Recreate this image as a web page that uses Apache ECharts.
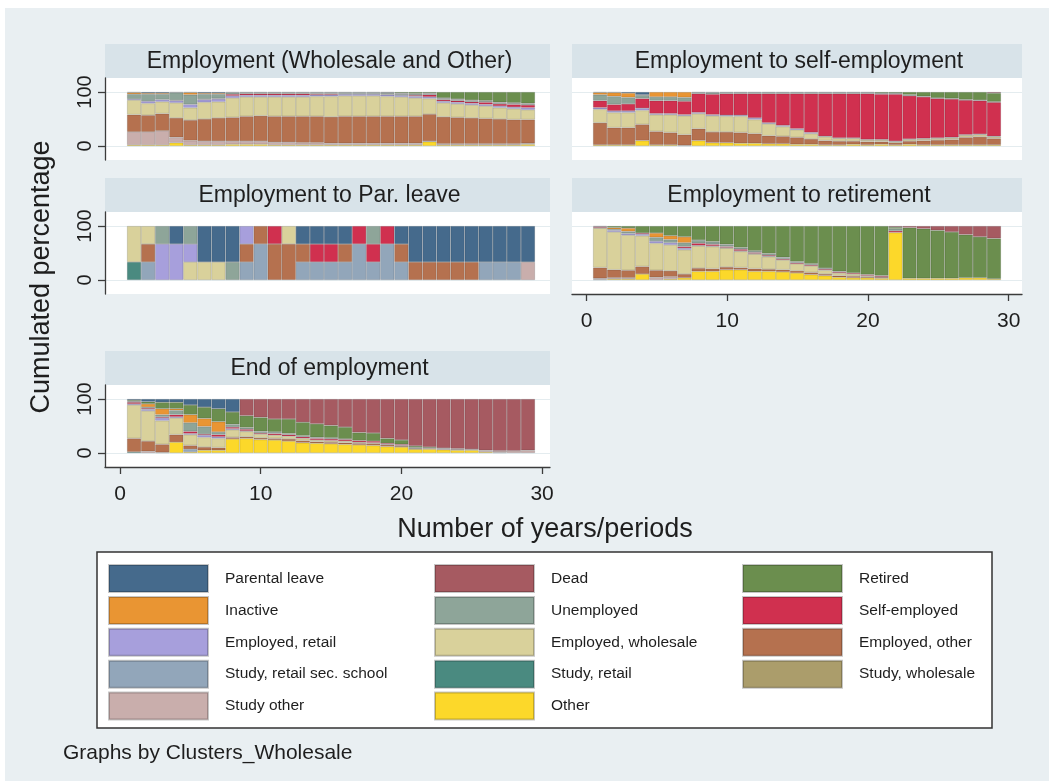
<!DOCTYPE html>
<html><head><meta charset="utf-8">
<script src="https://cdn.jsdelivr.net/npm/echarts@6/dist/echarts.min.js"></script>
<style>html,body{margin:0;padding:0;background:#fff}#c{width:1049px;height:781px}</style>
</head><body><div id="c"></div>
<script>
// ---------------- DATA ----------------
const periods = [1,2,3,4,5,6,7,8,9,10,11,12,13,14,15,16,17,18,19,20,21,22,23,24,25,26,27,28,29];
const xTickValues = [0,10,20,30];
const yTickValues = [0,100];
const panelTitles = ['Employment (Wholesale and Other)','Employment to self-employment','Employment to Par. leave','Employment to retirement','End of employment'];
const stateNames = ['Parental leave','Dead','Retired','Inactive','Unemployed','Self-employed','Employed, retail','Employed, wholesale','Employed, other','Study, retail sec. school','Study, retail','Study, wholesale','Study other','Other'];
const stateColors = ['#456a8c','#a65a61','#6b8e4e','#e99533','#8ea599','#d0304f','#a79fdc','#d9d19b','#b5714f','#92a6ba','#4a8a80','#ab9d6b','#c9aeac','#fcd82a'];

// Panel 1: Employment (Wholesale and Other)
const p1Other        = [2,2,2,6,2,2,2,3,3,3,2,2,2,2,2,2,2,2,2,2,2,8,2,2,2,2,2,2,3];
const p1StudyOther   = [24,24,26,10,8,7,7,6,6,6,5,5,4,4,3,3,3,3,3,3,3,1,2,2,2,2,2,2,2];
const p1EmpOther     = [32,31,32,36,38,41,43,44,46,47,48,48,49,49,49,50,50,50,50,50,50,50,50,49,48,47,46,45,44];
const p1EmpWholesale = [27,22,22,28,23,31,30,36,36,35,36,36,36,37,38,38,38,38,37,36,34,29,26,25,24,23,21,20,18];
const p1EmpRetail    = [2,4,4,4,6,5,5,4,3,3,3,3,3,3,3,3,3,3,3,3,3,3,3,3,3,3,3,3,4];
const p1SelfEmp      = [0,0,0,1,0,1,1,3,3,3,3,3,3,2,2,1,1,1,1,1,2,4,3,3,3,4,4,5,5];
const p1Unemp        = [9,13,10,14,18,9,8,3,2,2,2,2,2,2,2,2,2,2,2,2,2,2,2,2,2,2,2,2,2];
const p1Inactive     = [3,2,2,1,4,2,2,1,1,1,1,1,1,1,1,1,1,1,1,1,1,1,1,1,1,1,1,1,1];
const p1Retired      = [0,0,0,0,0,0,0,0,0,0,0,0,0,0,0,0,0,0,1,2,3,2,11,13,15,16,19,20,21];
const p1ParLeave     = [1,2,2,0,1,2,2,0,0,0,0,0,0,0,0,0,0,0,0,0,0,0,0,0,0,0,0,0,0];

// Panel 2: Employment to self-employment
const p2Other        = [2,2,2,10,2,2,1,10,6,6,5,5,4,4,3,3,2,2,3,2,3,2,3,2,2,2,2,2,2];
const p2EmpOther     = [41,32,32,30,25,23,20,22,20,20,20,18,15,14,13,10,8,7,6,6,5,4,6,8,9,10,14,15,12];
const p2EmpWholesale = [25,28,28,26,31,33,35,28,30,29,30,26,22,18,14,10,7,5,5,3,3,2,3,3,3,3,4,4,3];
const p2EmpRetail    = [3,3,3,4,2,2,2,2,2,2,2,3,2,2,2,2,1,1,1,1,1,1,1,1,1,1,1,1,1];
const p2SelfEmp      = [13,12,13,18,24,24,25,35,38,40,40,45,54,59,65,72,79,82,82,85,84,87,80,77,73,71,64,62,63];
const p2Unemp        = [11,15,12,6,7,7,7,2,3,2,2,2,2,2,2,2,2,2,2,2,2,2,2,1,1,1,1,1,1];
const p2Inactive     = [4,7,8,1,9,9,10,0,1,1,1,1,1,1,1,1,1,1,0,0,0,0,0,0,0,0,0,0,0];
const p2Retired      = [0,0,0,0,0,0,0,0,0,0,0,0,0,0,0,0,0,0,1,1,2,2,5,8,11,12,14,15,16];
const p2Dead         = [0,0,0,0,0,0,0,0,0,0,0,0,0,0,0,0,0,0,0,0,0,0,0,0,0,0,0,0,2];
const p2ParLeave     = [1,1,2,5,0,0,0,1,0,0,0,0,0,0,0,0,0,0,0,0,0,0,0,0,0,0,0,0,0];

// Panel 3: Employment to Par. leave
const p3StudyOther     = [0,0,0,0,0,0,0,0,0,0,0,0,0,0,0,0,0,0,0,0,0,0,0,0,0,0,0,0,33.3];
const p3StudyRetail    = [33.3,0,0,0,0,0,0,0,0,0,0,0,0,0,0,0,0,0,0,0,0,0,0,0,0,0,0,0,0];
const p3StudyRetailSec = [0,33.3,0,0,0,0,0,0,33.3,66.7,0,0,33.3,33.3,33.3,33.3,66.7,33.3,66.7,33.3,0,0,0,0,0,33.3,33.3,33.3,0];
const p3EmpOther       = [0,33.3,0,0,0,0,0,0,33.3,33.3,66.7,66.7,33.3,0,0,33.3,0,0,0,33.3,33.3,33.3,33.3,33.3,33.3,0,0,0,0];
const p3EmpWholesale   = [66.7,33.3,0,0,33.3,33.3,33.3,0,0,0,0,33.3,0,0,0,0,0,0,0,0,0,0,0,0,0,0,0,0,0];
const p3EmpRetail      = [0,0,66.7,66.7,33.3,0,0,0,33.3,0,0,0,0,0,0,0,0,0,0,0,0,0,0,0,0,0,0,0,0];
const p3SelfEmp        = [0,0,0,0,0,0,0,0,0,0,33.3,0,0,33.3,33.3,0,33.3,33.3,33.3,0,0,0,0,0,0,0,0,0,0];
const p3Unemp          = [0,0,33.3,0,33.3,0,0,33.3,0,0,0,0,0,0,0,0,0,33.3,0,0,0,0,0,0,0,0,0,0,0];
const p3ParLeave       = [0,0,0,33.3,0,66.7,66.7,66.7,0,0,0,0,33.3,33.3,33.3,33.3,0,0,0,33.3,66.7,66.7,66.7,66.7,66.7,66.7,66.7,66.7,66.7];

// Panel 4: Employment to retirement
const p4Other        = [1,2,2,11,0,2,4,16,16,19,19,16,16,15,13,10,8,5,4,4,3,88,3,3,3,3,4,4,2];
const p4StudyOther   = [2,2,2,0,5,4,0,0,0,0,0,0,0,0,0,0,0,0,0,0,0,0,0,0,0,0,0,0,0];
const p4EmpOther     = [20,15,14,14,13,11,7,6,5,5,4,5,4,4,4,4,3,3,3,2,2,0,0,0,0,0,0,0,0];
const p4EmpWholesale = [73,70,65,57,50,48,45,41,41,35,30,27,23,18,13,12,7,5,4,2,1,0,0,0,0,0,0,0,0];
const p4EmpRetail    = [1,3,3,3,4,4,3,1,1,1,1,1,1,0,0,0,0,0,0,0,0,0,0,0,0,0,0,0,0];
const p4SelfEmp      = [2,0,0,2,0,0,3,4,3,2,3,2,2,2,2,2,2,2,2,2,2,3,0,0,0,0,0,0,0];
const p4Unemp        = [0,2,4,0,7,6,7,6,5,4,3,3,3,3,2,2,2,1,0,0,0,4,0,0,0,0,0,0,0];
const p4Inactive     = [0,3,6,0,8,7,11,0,0,0,0,0,0,0,0,0,0,0,0,0,0,0,0,0,0,0,0,0,0];
const p4Retired      = [1,3,4,13,13,18,20,26,29,34,40,46,51,58,66,70,78,84,87,90,92,3,94,92,89,86,80,76,75];
const p4Dead         = [0,0,0,0,0,0,0,0,0,0,0,0,0,0,0,0,0,0,0,0,0,2,3,5,8,11,16,20,23];

// Panel 5: End of employment
const p5Other          = [0,0,1,20,2,5,5,26,27,25,24,22,19,18,17,16,15,14,12,11,7,7,6,5,5,2,1,0,0];
const p5StudyOther     = [0,3,0,0,0,0,0,0,0,0,0,0,0,0,0,0,0,0,0,0,1,2,2,2,2,3,3,4,5];
const p5StudyRetail    = [2,0,0,0,0,0,0,0,0,0,0,0,0,0,0,0,0,0,0,0,0,0,0,0,0,0,0,0,0];
const p5StudyRetailSec = [0,0,0,0,5,0,0,0,0,0,0,0,0,0,0,0,0,0,0,0,0,0,0,0,0,0,0,0,0];
const p5EmpOther       = [25,19,15,14,7,6,5,3,3,3,3,4,4,3,3,3,3,3,3,2,1,0,0,0,0,0,0,0,0];
const p5EmpWholesale   = [62,56,44,31,20,18,17,14,10,7,6,5,4,3,3,3,2,2,1,1,0,0,0,0,0,0,0,0,0];
const p5EmpRetail      = [2,3,5,2,2,4,3,2,1,0,0,0,0,0,0,0,0,0,0,0,0,0,0,0,0,0,0,0,0];
const p5SelfEmp        = [3,2,2,4,4,2,4,3,3,2,3,3,3,3,3,3,3,3,2,2,1,0,0,0,0,0,0,0,0];
const p5Unemp          = [1,2,4,8,16,14,5,5,3,3,3,2,2,2,2,1,0,0,0,0,0,0,0,0,0,0,0,0,0];
const p5Inactive       = [1,6,11,3,15,15,19,0,0,0,0,0,0,0,0,0,0,0,0,0,0,0,0,0,0,0,0,0,0];
const p5Retired        = [2,4,12,12,18,21,24,23,22,26,24,27,25,25,23,22,15,15,9,8,3,2,1,1,0,0,0,0,0];
const p5Dead           = [0,0,0,0,0,0,0,0,31,34,37,37,43,46,49,52,62,63,73,76,87,89,91,92,93,95,96,96,95];
const p5ParLeave       = [2,5,6,6,11,15,18,24,0,0,0,0,0,0,0,0,0,0,0,0,0,0,0,0,0,0,0,0,0];

const panelValues = [
  {'Other':p1Other,'Study other':p1StudyOther,'Employed, other':p1EmpOther,'Employed, wholesale':p1EmpWholesale,'Employed, retail':p1EmpRetail,'Self-employed':p1SelfEmp,'Unemployed':p1Unemp,'Inactive':p1Inactive,'Retired':p1Retired,'Parental leave':p1ParLeave},
  {'Other':p2Other,'Employed, other':p2EmpOther,'Employed, wholesale':p2EmpWholesale,'Employed, retail':p2EmpRetail,'Self-employed':p2SelfEmp,'Unemployed':p2Unemp,'Inactive':p2Inactive,'Retired':p2Retired,'Dead':p2Dead,'Parental leave':p2ParLeave},
  {'Study other':p3StudyOther,'Study, retail':p3StudyRetail,'Study, retail sec. school':p3StudyRetailSec,'Employed, other':p3EmpOther,'Employed, wholesale':p3EmpWholesale,'Employed, retail':p3EmpRetail,'Self-employed':p3SelfEmp,'Unemployed':p3Unemp,'Parental leave':p3ParLeave},
  {'Other':p4Other,'Study other':p4StudyOther,'Employed, other':p4EmpOther,'Employed, wholesale':p4EmpWholesale,'Employed, retail':p4EmpRetail,'Self-employed':p4SelfEmp,'Unemployed':p4Unemp,'Inactive':p4Inactive,'Retired':p4Retired,'Dead':p4Dead},
  {'Other':p5Other,'Study other':p5StudyOther,'Study, retail':p5StudyRetail,'Study, retail sec. school':p5StudyRetailSec,'Employed, other':p5EmpOther,'Employed, wholesale':p5EmpWholesale,'Employed, retail':p5EmpRetail,'Self-employed':p5SelfEmp,'Unemployed':p5Unemp,'Inactive':p5Inactive,'Retired':p5Retired,'Dead':p5Dead,'Parental leave':p5ParLeave}
];

// ---------------- LAYOUT ----------------
const FONT = '"Liberation Sans", Arial, sans-serif';
const BG = '#e9eff2', HEAD = '#d8e3e9', AXIS = '#3c3c3c', TXT = '#1e1e1e', GRIDL = '#e4ecef';
const layout = [
  {col:0, y0:44, xAxis:false},
  {col:1, y0:44, xAxis:false},
  {col:0, y0:178, xAxis:false},
  {col:1, y0:178, xAxis:true},
  {col:0, y0:351, xAxis:true}
];
const colGeom = [
  {aLeft:105, aWidth:445, xMin:-1.066, xMax:30.56, bLeft:127, bWidth:408},
  {aLeft:572, aWidth:450, xMin:-1.03,  xMax:30.95, bLeft:593, bWidth:408}
];
const Y_MIN = -26, Y_MAX = 126;

const grids = [], xAxes = [], yAxes = [], series = [];
const graphics = [
  {type:'rect', shape:{x:5, y:8, width:1044, height:773}, style:{fill:BG}, z:-100, silent:true},
  {type:'rect', shape:{x:97, y:552, width:895, height:176}, style:{fill:'#fff', stroke:'#333', lineWidth:1.5}, z:-10, silent:true},
  {type:'text', x:42, y:277, rotation:Math.PI/2, style:{text:'Cumulated percentage', font:'27px ' + FONT, fill:TXT, align:'center', verticalAlign:'middle', textAlign:'center', textVerticalAlign:'middle'}, z:10},
  {type:'text', x:545, y:530, style:{text:'Number of years/periods', font:'27px ' + FONT, fill:TXT, align:'center', verticalAlign:'middle', textAlign:'center', textVerticalAlign:'middle'}, z:10},
  {type:'text', x:63, y:753, style:{text:'Graphs by Clusters_Wholesale', font:'21px ' + FONT, fill:TXT, align:'left', verticalAlign:'middle', textAlign:'left', textVerticalAlign:'middle'}, z:10}
];

const stackOrder = stateNames.slice().reverse(); // bottom -> top

layout.forEach((L, p) => {
  const g = colGeom[L.col];
  const top = L.y0 + 34, h = 82;
  graphics.push({type:'rect', shape:{x:g.aLeft, y:L.y0, width:g.aWidth, height:34}, style:{fill:HEAD}, z:-50, silent:true});
  graphics.push({type:'text', x:g.aLeft + g.aWidth/2 + 2, y:L.y0 + 18, style:{text:panelTitles[p], font:'23px ' + FONT, fill:TXT, align:'center', verticalAlign:'middle', textAlign:'center', textVerticalAlign:'middle'}, z:10});

  const ia = grids.length;
  grids.push({left:g.aLeft, top:top, width:g.aWidth, height:h, show:true, backgroundColor:'#fff', borderWidth:0});
  xAxes.push({gridIndex:ia, type:'value', min:g.xMin, max:g.xMax, show:L.xAxis,
    axisLine:{show:true, onZero:false, lineStyle:{color:AXIS, width:1.3}},
    axisTick:{show:true, length:7, customValues:xTickValues, lineStyle:{color:AXIS, width:1.3}},
    axisLabel:{show:true, customValues:xTickValues, margin:17, fontSize:21, color:TXT, fontFamily:FONT},
    splitLine:{show:false}});
  yAxes.push({gridIndex:ia, type:'value', min:Y_MIN, max:Y_MAX,
    axisLine:{show:L.col===0, onZero:false, lineStyle:{color:AXIS, width:1.3}},
    axisTick:{show:L.col===0, length:7, customValues:yTickValues, lineStyle:{color:AXIS, width:1.3}},
    axisLabel:{show:L.col===0, customValues:yTickValues, rotate:90, margin:10, fontSize:20, color:TXT, fontFamily:FONT},
    splitLine:{show:true, lineStyle:{color:GRIDL, width:1.2}}});

  const ib = grids.length;
  grids.push({left:g.bLeft, top:top, width:g.bWidth, height:h});
  xAxes.push({gridIndex:ib, type:'category', data:periods, show:false, boundaryGap:true});
  yAxes.push({gridIndex:ib, type:'value', min:Y_MIN, max:Y_MAX, show:false, splitLine:{show:false}});

  stackOrder.forEach(name => {
    const arr = panelValues[p][name] || [];
    const data = periods.map((_, i) => (arr[i] ? arr[i] : '-'));
    series.push({
      type:'bar', name:name, xAxisIndex:ib, yAxisIndex:ib, stack:'s' + p,
      barCategoryGap:'0%', barGap:'0%', data:data,
      itemStyle:{color:stateColors[stateNames.indexOf(name)], borderColor:'rgba(0,0,0,0.22)', borderWidth:0.6},
      emphasis:{disabled:true}, silent:true
    });
  });
});

const legendCols = [
  {left:108, names:['Parental leave','Inactive','Employed, retail','Study, retail sec. school','Study other']},
  {left:434, names:['Dead','Unemployed','Employed, wholesale','Study, retail','Other']},
  {left:742, names:['Retired','Self-employed','Employed, other','Study, wholesale']}
];
const legends = legendCols.map(c => ({
  orient:'vertical', left:c.left, top:564, padding:0, itemGap:2.9, itemWidth:99, itemHeight:27,
  icon:'rect', selectedMode:false, data:c.names,
  textStyle:{fontSize:15.5, fontFamily:FONT, color:TXT, padding:[0,0,0,12]}
}));

const chart = echarts.init(document.getElementById('c'), null, {renderer:'canvas'});
chart.setOption({
  backgroundColor:'#fff', animation:false,
  textStyle:{fontFamily:FONT},
  grid:grids, xAxis:xAxes, yAxis:yAxes, series:series,
  legend:legends, graphic:{elements:graphics}
});
</script></body></html>
